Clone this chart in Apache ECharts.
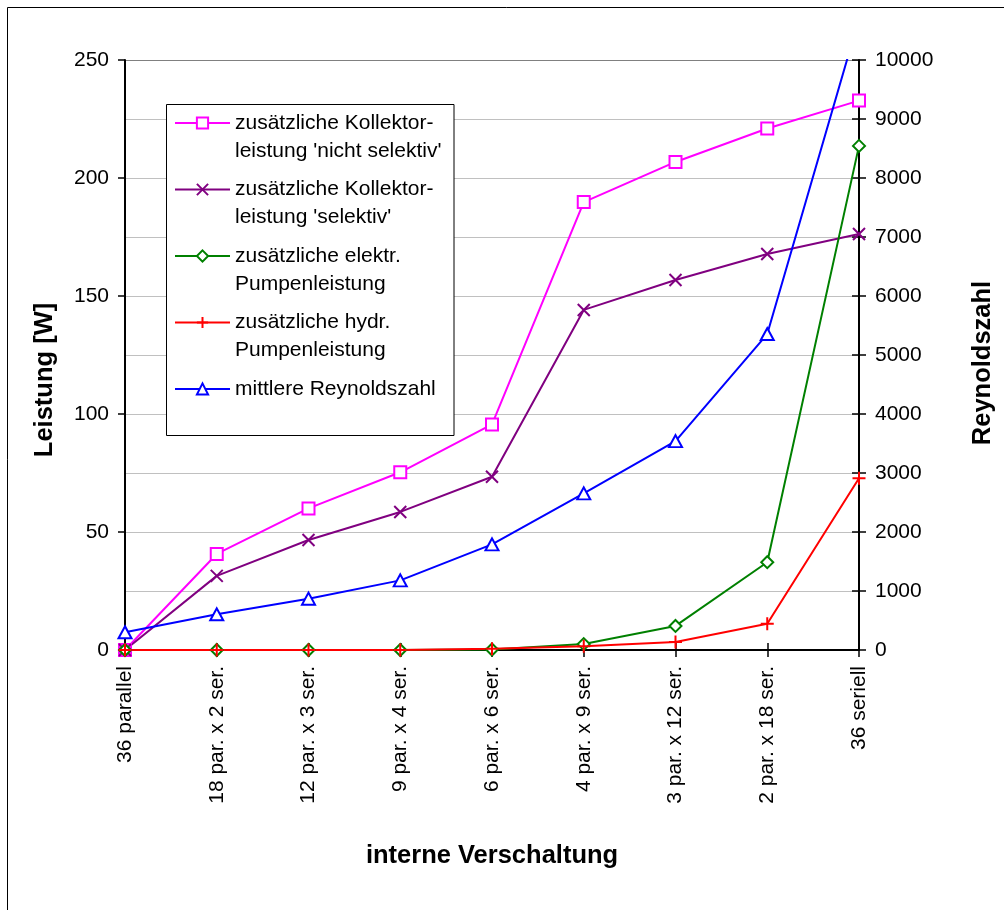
<!DOCTYPE html>
<html>
<head>
<meta charset="utf-8">
<script src="https://cdn.jsdelivr.net/npm/echarts@6/dist/echarts.min.js"></script>
<style>
  html, body { margin: 0; padding: 0; background: #fff; }
  #chart { width: 1004px; height: 910px; }
</style>
</head>
<body>
<div id="chart"></div>
<script>
// Kategorien der internen Verschaltung der 36 Kollektoren
const categories = [
  '36 parallel', '18 par. x 2 ser.', '12 par. x 3 ser.', '9 par. x 4 ser.',
  '6 par. x 6 ser.', '4 par. x 9 ser.', '3 par. x 12 ser.', '2 par. x 18 ser.', '36 seriell'
];

// Leistungen in W (linke Achse)
const kollektorNichtSelektiv = [0, 40.7, 60.0, 75.3, 95.6, 189.8, 206.8, 221.0, 232.8];
const kollektorSelektiv      = [0, 31.4, 46.6, 58.5, 73.4, 144.1, 156.8, 167.8, 176.3];
const elektrPumpe            = [0, 0, 0, 0, 0.2, 2.5, 10.2, 37.2, 213.6];
const hydrPumpe              = [0, 0, 0, 0, 0.5, 1.6, 3.4, 11.1, 72.8];

// mittlere Reynoldszahl (rechte Achse)
const reynolds = [300, 605, 870, 1180, 1790, 2655, 3540, 5355, 10700];

// Achsbeschriftungen
const leistungTicks = [0, 50, 100, 150, 200, 250];
const reynoldsTicks = [0, 1000, 2000, 3000, 4000, 5000, 6000, 7000, 8000, 9000, 10000];

const seriesNames = [
  "zusätzliche Kollektor-\nleistung 'nicht selektiv'",
  "zusätzliche Kollektor-\nleistung 'selektiv'",
  "zusätzliche elektr.\nPumpenleistung",
  "zusätzliche hydr.\nPumpenleistung",
  "mittlere Reynoldszahl"
];

const FONT = "'Liberation Sans', Arial, sans-serif";
const GRID = { left: 125, right: 141, top: 60, bottom: 260 };

const chart = echarts.init(document.getElementById('chart'), null, { renderer: 'canvas' });

function lineSeries(name, data, color, symbol, size, yAxisIndex) {
  return {
    name: name,
    type: 'line',
    data: data,
    xAxisIndex: 0,
    yAxisIndex: yAxisIndex,
    symbol: symbol,
    symbolSize: size,
    showAllSymbol: true,
    clip: true,
    animation: false,
    lineStyle: { color: color, width: 2 },
    itemStyle: { color: color, borderColor: color, borderWidth: 2 },
    emphasis: { disabled: true }
  };
}

// Legendeneintrag: Symbol auf Höhe der ersten Textzeile
function legendText(name) {
  return name.indexOf('\n') >= 0 ? ' \n' + name : ' \n' + name + '\n ';
}

const splitColors = reynoldsTicks.map((t, i) => i === reynoldsTicks.length - 1 ? '#808080' : '#c0c0c0');

const option = {
  backgroundColor: '#fff',
  animation: false,
  textStyle: { fontFamily: FONT },
  grid: GRID,
  graphic: [
    // Rahmen um das Diagramm
    { type: 'rect', z: -10, shape: { x: 7.5, y: 7.5, width: 1100, height: 1100 },
      style: { fill: 'none', stroke: '#000', lineWidth: 1 } },
    // Rahmen der Legende
    { type: 'rect', z: 10, shape: { x: 166.5, y: 104.5, width: 287.5, height: 331 },
      style: { fill: '#fff', stroke: '#000', lineWidth: 1 } }
  ],
  legend: {
    orient: 'vertical',
    left: 174,
    top: 81,
    padding: 0,
    itemGap: -17.5,
    itemWidth: 55,
    itemHeight: 14,
    z: 20,
    selectedMode: false,
    formatter: legendText,
    textStyle: { fontFamily: FONT, fontSize: 21, color: '#000', lineHeight: 28 },
    data: seriesNames
  },
  xAxis: [
    {
      type: 'category',
      data: categories,
      position: 'bottom',
      boundaryGap: false,
      name: 'interne Verschaltung',
      nameLocation: 'middle',
      nameGap: 193,
      nameTextStyle: { fontFamily: FONT, fontSize: 25.5, fontWeight: 'bold', color: '#000' },
      axisLine: { show: true, onZero: false, lineStyle: { color: '#000', width: 2 } },
      axisTick: { show: true, inside: false, length: 7, interval: 0, lineStyle: { color: '#000', width: 1.5 } },
      axisLabel: { show: true, interval: 0, rotate: 90, margin: 16, fontFamily: FONT, fontSize: 21, color: '#000' },
      splitLine: { show: false }
    },
    {
      type: 'category',
      data: categories,
      position: 'bottom',
      boundaryGap: false,
      axisLine: { show: false },
      axisTick: { show: true, inside: true, length: 7, interval: 0, lineStyle: { color: '#000', width: 1.5 } },
      axisLabel: { show: false },
      splitLine: { show: false }
    }
  ],
  yAxis: [
    {
      type: 'value',
      position: 'left',
      min: leistungTicks[0],
      max: leistungTicks[leistungTicks.length - 1],
      interval: leistungTicks[1] - leistungTicks[0],
      name: 'Leistung [W]',
      nameLocation: 'middle',
      nameRotate: 90,
      nameGap: 67,
      nameTextStyle: { fontFamily: FONT, fontSize: 25.5, fontWeight: 'bold', color: '#000', padding: [0, 50, 0, 0] },
      axisLine: { show: true, onZero: false, lineStyle: { color: '#000', width: 2 } },
      axisTick: { show: true, inside: false, length: 7, lineStyle: { color: '#000', width: 1.5 } },
      axisLabel: { margin: 16, fontFamily: FONT, fontSize: 21, color: '#000', formatter: v => String(v) },
      splitLine: { show: false }
    },
    {
      type: 'value',
      position: 'right',
      min: reynoldsTicks[0],
      max: reynoldsTicks[reynoldsTicks.length - 1],
      interval: reynoldsTicks[1] - reynoldsTicks[0],
      name: 'Reynoldszahl',
      nameLocation: 'middle',
      nameRotate: 90,
      nameGap: 111,
      nameTextStyle: { fontFamily: FONT, fontSize: 25.5, fontWeight: 'bold', color: '#000', padding: [0, 16, 0, 0] },
      axisLine: { show: true, onZero: false, lineStyle: { color: '#000', width: 2 } },
      axisTick: { show: true, inside: false, length: 7, lineStyle: { color: '#000', width: 1.5 } },
      axisLabel: { margin: 16, fontFamily: FONT, fontSize: 21, color: '#000', formatter: v => String(v) },
      splitLine: { show: true, lineStyle: { color: splitColors, width: 1 } }
    },
    {
      type: 'value',
      position: 'right',
      min: reynoldsTicks[0],
      max: reynoldsTicks[reynoldsTicks.length - 1],
      interval: reynoldsTicks[1] - reynoldsTicks[0],
      axisLine: { show: false },
      axisTick: { show: true, inside: true, length: 7, lineStyle: { color: '#000', width: 1.5 } },
      axisLabel: { show: false },
      splitLine: { show: false }
    }
  ],
  series: [
    lineSeries(seriesNames[0], kollektorNichtSelektiv, '#ff00ff', 'emptyRect', 12, 0),
    lineSeries(seriesNames[1], kollektorSelektiv, '#800080', 'path://M0,0L10,10M0,10L10,0', 12, 0),
    lineSeries(seriesNames[2], elektrPumpe, '#008000', 'emptyDiamond', [12, 12], 0),
    lineSeries(seriesNames[3], hydrPumpe, '#ff0000', 'path://M5,0L5,10M0,5L10,5', 13, 0),
    lineSeries(seriesNames[4], reynolds, '#0000ff', 'emptyTriangle', [13, 12], 1)
  ]
};

chart.setOption(option);
</script>
</body>
</html>
